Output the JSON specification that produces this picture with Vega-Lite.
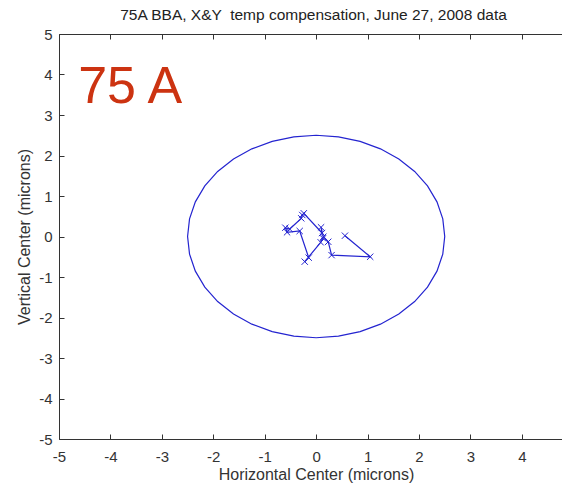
{
  "$schema": "https://vega.github.io/schema/vega-lite/v6.json",
  "width": 503,
  "height": 405,
  "autosize": {"type": "none"},
  "padding": {"left": 59, "top": 34, "right": 0, "bottom": 45},
  "background": "white",
  "config": {
    "view": {"stroke": null},
    "font": "Liberation Sans",
    "axis": {"labelFont": "Liberation Sans", "titleFont": "Liberation Sans", "labelFontSize": 15, "titleFontSize": 16, "titleFontWeight": "normal", "labelColor": "#333", "titleColor": "#333", "domainColor": "#333", "tickColor": "#333", "grid": false, "tickSize": -5, "domainWidth": 1, "tickWidth": 1,
             "labelExpr": "datum.value < 0 ? '-' + abs(datum.value) : '' + datum.value"}
  },
  "title": {"text": "75A BBA, X&Y \u00a0temp compensation, June 27, 2008 data", "fontSize": 15.5, "fontWeight": "normal", "font": "Liberation Sans", "color": "#222", "offset": 4, "dx": 3},
  "datasets": {
    "circle": [
      {"a": 0, "x": 2.5, "y": 0}, {"a": 10, "x": 2.462, "y": 0.434}, {"a": 20, "x": 2.349, "y": 0.855}, {"a": 30, "x": 2.165, "y": 1.25},
      {"a": 40, "x": 1.915, "y": 1.607}, {"a": 50, "x": 1.607, "y": 1.915}, {"a": 60, "x": 1.25, "y": 2.165}, {"a": 70, "x": 0.855, "y": 2.349},
      {"a": 80, "x": 0.434, "y": 2.462}, {"a": 90, "x": 0, "y": 2.5}, {"a": 100, "x": -0.434, "y": 2.462}, {"a": 110, "x": -0.855, "y": 2.349},
      {"a": 120, "x": -1.25, "y": 2.165}, {"a": 130, "x": -1.607, "y": 1.915}, {"a": 140, "x": -1.915, "y": 1.607}, {"a": 150, "x": -2.165, "y": 1.25},
      {"a": 160, "x": -2.349, "y": 0.855}, {"a": 170, "x": -2.462, "y": 0.434}, {"a": 180, "x": -2.5, "y": 0}, {"a": 190, "x": -2.462, "y": -0.434},
      {"a": 200, "x": -2.349, "y": -0.855}, {"a": 210, "x": -2.165, "y": -1.25}, {"a": 220, "x": -1.915, "y": -1.607}, {"a": 230, "x": -1.607, "y": -1.915},
      {"a": 240, "x": -1.25, "y": -2.165}, {"a": 250, "x": -0.855, "y": -2.349}, {"a": 260, "x": -0.434, "y": -2.462}, {"a": 270, "x": 0, "y": -2.5},
      {"a": 280, "x": 0.434, "y": -2.462}, {"a": 290, "x": 0.855, "y": -2.349}, {"a": 300, "x": 1.25, "y": -2.165}, {"a": 310, "x": 1.607, "y": -1.915},
      {"a": 320, "x": 1.915, "y": -1.607}, {"a": 330, "x": 2.165, "y": -1.25}, {"a": 340, "x": 2.349, "y": -0.855}, {"a": 350, "x": 2.462, "y": -0.434},
      {"a": 360, "x": 2.5, "y": 0}
    ],
    "track": [
      {"i": 1, "x": 0.56, "y": 0.02},
      {"i": 2, "x": 1.05, "y": -0.5},
      {"i": 3, "x": 0.3, "y": -0.46},
      {"i": 4, "x": 0.235, "y": -0.13},
      {"i": 5, "x": 0.14, "y": -0.005},
      {"i": 6, "x": 0.095, "y": 0.227},
      {"i": 7, "x": 0.115, "y": 0.086},
      {"i": 8, "x": -0.24, "y": 0.573},
      {"i": 9, "x": -0.27, "y": 0.531},
      {"i": 10, "x": -0.29, "y": 0.449},
      {"i": 11, "x": -0.514, "y": 0.185},
      {"i": 12, "x": -0.599, "y": 0.217},
      {"i": 13, "x": -0.566, "y": 0.104},
      {"i": 14, "x": -0.32, "y": 0.136},
      {"i": 15, "x": -0.145, "y": -0.523},
      {"i": 16, "x": -0.222, "y": -0.622},
      {"i": 17, "x": 0.088, "y": -0.143},
      {"i": 18, "x": 0.133, "y": -0.044}
    ],
    "label": [{"x": -4.627, "y": 3.289, "t": "75 A"}]
  },
  "layer": [
    {
      "data": {"name": "circle"},
      "mark": {"type": "line", "color": "#2424d0", "strokeWidth": 1.2},
      "encoding": {
        "x": {"field": "x", "type": "quantitative", "scale": {"domain": [-5, 4.78], "nice": false, "zero": false},
              "axis": {"orient": "bottom", "values": [-5, -4, -3, -2, -1, 0, 1, 2, 3, 4], "labelPadding": 15, "title": "Horizontal Center (microns)", "titleX": 257, "titlePadding": 2, "labelFlush": false, "labelOverlap": false}},
        "y": {"field": "y", "type": "quantitative", "scale": {"domain": [-5, 5], "nice": false, "zero": false},
              "axis": {"orient": "left", "values": [-5, -4, -3, -2, -1, 0, 1, 2, 3, 4, 5], "labelPadding": 12, "title": "Vertical Center (microns)", "titlePadding": 6, "labelFlush": false, "labelOverlap": false}},
        "order": {"field": "a", "type": "quantitative"}
      }
    },
    {
      "data": {"name": "track"},
      "mark": {"type": "line", "color": "#2424d0", "strokeWidth": 1.2},
      "encoding": {
        "x": {"field": "x", "type": "quantitative",
              "axis": {"orient": "top", "values": [-5, -4, -3, -2, -1, 0, 1, 2, 3, 4], "labels": false, "title": null}},
        "y": {"field": "y", "type": "quantitative", "axis": null},
        "order": {"field": "i", "type": "quantitative"}
      }
    },
    {
      "data": {"name": "track"},
      "mark": {"type": "point", "shape": "M-1,-1L1,1M-1,1L1,-1", "filled": false, "color": "#2424d0", "size": 40, "strokeWidth": 1, "opacity": 1},
      "encoding": {
        "x": {"field": "x", "type": "quantitative", "axis": null},
        "y": {"field": "y", "type": "quantitative", "axis": null}
      }
    },
    {
      "data": {"name": "label"},
      "mark": {"type": "text", "align": "left", "baseline": "alphabetic", "fontSize": 52, "font": "Liberation Sans", "color": "#cc3311"},
      "encoding": {
        "x": {"field": "x", "type": "quantitative", "axis": null},
        "y": {"field": "y", "type": "quantitative", "axis": null},
        "text": {"field": "t"}
      }
    }
  ],
  "resolve": {"axis": {"x": "independent", "y": "independent"}}
}
